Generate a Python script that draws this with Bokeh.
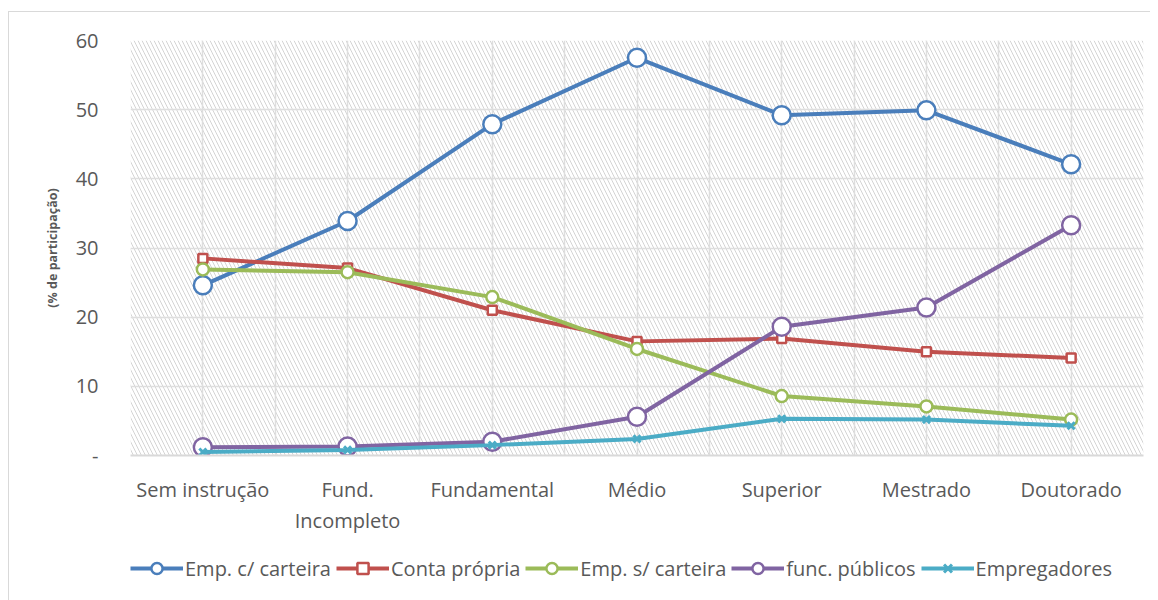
from bokeh.plotting import figure
from bokeh.layouts import column
from bokeh.models import (FixedTicker, Legend, LegendItem, BoxAnnotation, Range1d)
from bokeh.embed import file_html
from bokeh.resources import INLINE

categories = ["Sem instrução", "Fund.\nIncompleto", "Fundamental", "Médio", "Superior", "Mestrado", "Doutorado"]
emp_c_carteira = [24.6, 33.9, 47.9, 57.5, 49.2, 49.9, 42.1]
conta_propria = [28.5, 27.1, 21.0, 16.5, 16.9, 15.0, 14.1]
emp_s_carteira = [26.9, 26.5, 22.9, 15.4, 8.6, 7.1, 5.2]
func_publicos = [1.2, 1.3, 2.0, 5.6, 18.6, 21.4, 33.3]
empregadores = [0.5, 0.8, 1.5, 2.4, 5.3, 5.2, 4.3]
y_ticks = [0, 10, 20, 30, 40, 50, 60]
y_labels = ["-", "10", "20", "30", "40", "50", "60"]

xs = list(range(len(categories)))
FONT = "Open Sans"
TXT = "#595959"

p = figure(width=1141, height=524, output_backend="svg", toolbar_location=None,
           x_range=Range1d(-0.5, len(categories) - 0.5), y_range=Range1d(0, 60),
           min_border_left=121, min_border_right=7, min_border_top=28, min_border_bottom=20)
p.outline_line_color = None
p.background_fill_color = "white"
p.border_fill_color = "white"

# hatched plot background
bg = BoxAnnotation(fill_alpha=0, line_color=None, hatch_pattern="\\", hatch_color="#d4d4d4",
                   hatch_weight=1, hatch_scale=8, level="image")
p.add_layout(bg)

# axes
p.xaxis.ticker = FixedTicker(ticks=xs)
p.xaxis.major_label_overrides = {i: c for i, c in enumerate(categories)}
p.xaxis.major_tick_line_color = None
p.xaxis.minor_tick_line_color = None
p.xaxis.axis_line_color = "#d9d9d9"
p.xaxis.axis_line_width = 2
p.xaxis.major_label_text_font = FONT
p.xaxis.major_label_text_font_size = "20px"
p.xaxis.major_label_text_color = TXT
p.xaxis.major_label_standoff = 14
p.xaxis.major_label_text_line_height = 1.15

p.yaxis.ticker = FixedTicker(ticks=y_ticks)
p.yaxis.major_label_overrides = {t: l for t, l in zip(y_ticks, y_labels)}
p.yaxis.major_tick_line_color = None
p.yaxis.minor_tick_line_color = None
p.yaxis.axis_line_color = None
p.yaxis.major_label_text_font = FONT
p.yaxis.major_label_text_font_size = "20px"
p.yaxis.major_label_text_color = TXT
p.yaxis.major_label_standoff = 26
p.yaxis.axis_label = "(% de participação)"
p.yaxis.axis_label_text_font = FONT
p.yaxis.axis_label_text_font_size = "12.5px"
p.yaxis.axis_label_text_font_style = "bold"
p.yaxis.axis_label_text_color = TXT
p.yaxis.axis_label_standoff = 12

# grids
p.xgrid.ticker = FixedTicker(ticks=[i * 0.5 - 0.5 for i in range(2 * len(categories) + 1)])
p.xgrid.grid_line_color = "#dedede"
p.xgrid.grid_line_width = 1.5
p.ygrid.ticker = FixedTicker(ticks=y_ticks)
p.ygrid.grid_line_color = "#dedede"
p.ygrid.grid_line_width = 1.5

series = [
    ("Emp. c/ carteira", emp_c_carteira, "#4A7EBB", "circle", 18),
    ("Conta própria", conta_propria, "#C0504D", "square", 9),
    ("Emp. s/ carteira", emp_s_carteira, "#9BBB59", "circle", 12),
    ("func. públicos", func_publicos, "#8064A2", "circle", 18),
    ("Empregadores", empregadores, "#4BACC6", "x", 10),
]

# legend strip below the chart; its own ranges keep its copies of the series out of view
p2 = figure(width=1141, height=64, output_backend="svg", toolbar_location=None,
            x_range=Range1d(-100, -99), y_range=Range1d(-100, -99),
            x_axis_location=None, y_axis_location=None,
            min_border_left=0, min_border_right=0, min_border_top=0, min_border_bottom=0)
p2.outline_line_color = None
p2.xgrid.visible = False
p2.ygrid.visible = False
p2.border_fill_color = "white"
p2.background_fill_color = "white"


def draw(fig, x, y, col, marker, size):
    l = fig.line(x, y, line_color=col, line_width=4)
    if marker == "x":
        s = fig.scatter(x, y, marker="x", size=size, line_color=col, line_width=3)
    else:
        s = fig.scatter(x, y, marker=marker, size=size, line_color=col, line_width=2.5,
                        fill_color="white")
    return l, s


items = []
for name, vals, col, marker, size in series:
    draw(p, xs, vals, col, marker, size)
    l2, s2 = draw(p2, xs, vals, col, marker, size)
    items.append(LegendItem(label=name, renderers=[l2, s2]))

legend = Legend(items=items, orientation="horizontal", location=(0, 18),
                glyph_width=53, glyph_height=28, label_standoff=2, spacing=5,
                padding=0, margin=0, border_line_color=None, background_fill_alpha=0,
                label_text_font=FONT, label_text_font_size="20px", label_text_color=TXT)
p2.add_layout(legend, "center")

layout = column(p, p2, spacing=0)
layout.styles = {"border-left": "1px solid #d9d9d9", "border-top": "1px solid #d9d9d9",
                 "margin-left": "8px", "margin-top": "11px"}
open("out.html", "w").write(file_html(layout, INLINE))
